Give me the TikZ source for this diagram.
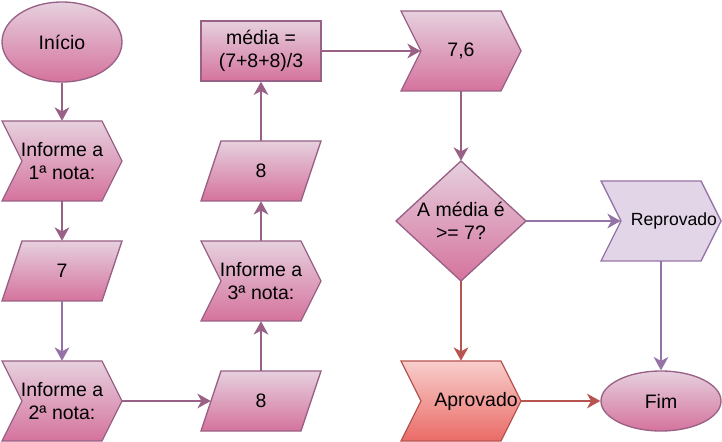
\documentclass[tikz,border=0pt]{standalone}
\usepackage{fontspec}
\setmainfont{Liberation Sans}
\usetikzlibrary{arrows.meta,shapes.geometric}
\definecolor{pfillA}{HTML}{E6D0DE}
\definecolor{pfillB}{HTML}{D5739D}
\definecolor{pline}{HTML}{996185}
\definecolor{vfill}{HTML}{E1D5E7}
\definecolor{vline}{HTML}{9673A6}
\definecolor{rfillA}{HTML}{F8CECC}
\definecolor{rfillB}{HTML}{EA6B66}
\definecolor{rline}{HTML}{B85450}
\newcommand\chevpath[5]{\path[#5] (#1,#2) -- ({#3-20},#2) -- (#3,{(#2+#4)/2}) -- ({#3-20},#4) -- (#1,#4) -- ({#1+20},{(#2+#4)/2}) -- cycle;}
\newcommand\parapath[5]{\path[#5] ({#1+20},#2) -- (#3,#2) -- ({#3-20},#4) -- (#1,#4) -- cycle;}
\tikzset{
  pinkshape/.style={draw=pline, line width=1pt, top color=pfillA, bottom color=pfillB},
  violetshape/.style={draw=vline, line width=1pt, fill=vfill},
  redshape/.style={draw=rline, line width=1pt, top color=rfillA, bottom color=rfillB},
  lbl/.style={font=\fontsize{14.6}{17.6}\selectfont, align=center, text=black, inner sep=0pt},
  conn/.style={line width=1.5pt, draw=pline, -{Stealth[length=10pt,width=11pt,inset=3pt]}},
}
\begin{document}
\begin{tikzpicture}[x=0.75pt,y=-0.75pt]
\useasboundingbox (0,0) rectangle (722,442);
% column 1
\node[ellipse, pinkshape, lbl, minimum width=90pt, minimum height=60pt] (start) at (62,42) {Início};
\chevpath{2}{121}{122}{201}{pinkshape}
\node[lbl, minimum width=90pt, minimum height=60pt] (inf1) at (62,161) {Informe a\\1ª nota:};
\parapath{2}{241}{122}{301}{pinkshape}
\node[lbl, minimum width=75pt, minimum height=45pt] (seven) at (62,271) {7};
\chevpath{2}{361}{122}{441}{pinkshape}
\node[lbl, minimum width=90pt, minimum height=60pt] (inf2) at (62,401) {Informe a\\2ª nota:};
% column 2
\node[rectangle, pinkshape, lbl, minimum width=90pt, minimum height=45pt] (media) at (261,51) {média =\\(7+8+8)/3};
\parapath{201}{141}{321}{201}{pinkshape}
\node[lbl, minimum width=75pt, minimum height=45pt] (eighttwo) at (261,171) {8};
\chevpath{201}{241}{321}{321}{pinkshape}
\node[lbl, minimum width=90pt, minimum height=60pt] (inf3) at (261,281) {Informe a\\3ª nota:};
\parapath{201}{371}{321}{431}{pinkshape}
\node[lbl, minimum width=75pt, minimum height=45pt] (eightone) at (261,401) {8};
% column 3
\chevpath{401}{11}{521}{91}{pinkshape}
\node[lbl, minimum width=90pt, minimum height=60pt] (res) at (461,51) {7,6};
\path[pinkshape] (461,161) -- (526,221) -- (461,281) -- (396,221) -- cycle;
\node[lbl, minimum width=97.5pt, minimum height=90pt] (dec) at (461,221) {A média é\\>= 7?};
\chevpath{401}{361}{521}{441}{redshape}
\node[lbl, minimum width=90pt, minimum height=60pt] (aprov) at (461,401) {};
\node[lbl] (aprovtxt) at (476,401) {Aprovado};
% column 4
\chevpath{601}{181}{721}{261}{violetshape}
\node[lbl, minimum width=90pt, minimum height=60pt] (reprov) at (661,221) {};
\node[lbl, font=\fontsize{13.2}{16}\selectfont] (reprovtxt) at (674,221) {Reprovado};
\node[ellipse, pinkshape, lbl, minimum width=90pt, minimum height=45pt] (fim) at (661,401) {Fim};
% connectors
\draw[conn] (start.south) -- (inf1.north);
\draw[conn] (inf1.south) -- (seven.north);
\draw[conn, draw=vline] (seven.south) -- (inf2.north);
\draw[conn] (inf2.east) -- (eightone.west);
\draw[conn] (eightone.north) -- (inf3.south);
\draw[conn] (inf3.north) -- (eighttwo.south);
\draw[conn] (eighttwo.north) -- (media.south);
\draw[conn] (media.east) -- ([xshift=15pt]res.west);
\draw[conn] (res.south) -- (dec.north);
\draw[conn, draw=vline] (dec.east) -- ([xshift=15pt]reprov.west);
\draw[conn, draw=rline] (dec.south) -- (aprov.north);
\draw[conn, draw=rline] (aprov.east) -- (fim.west);
\draw[conn, draw=vline] (reprov.south) -- (fim.north);
\end{tikzpicture}
\end{document}
